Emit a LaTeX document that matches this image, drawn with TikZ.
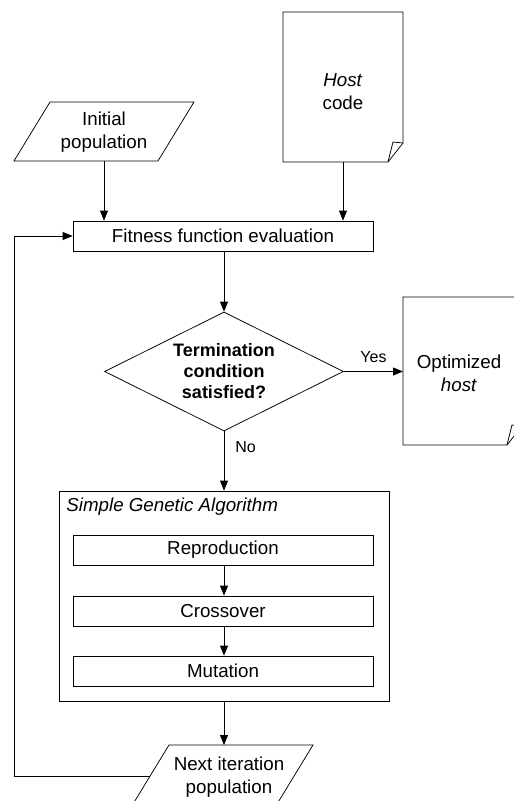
\documentclass[tikz,border=0pt]{standalone}
\usepackage{fontspec}
\setmainfont{Liberation Sans}
\usetikzlibrary{arrows.meta,shapes.geometric}
\begin{document}
\begin{tikzpicture}[x=1pt,y=-1pt,
  line width=0.75pt,
  every node/.style={inner sep=0pt},
  txt/.style={font=\fontsize{18.75}{23}\selectfont, align=center},
  lbl/.style={font=\fontsize{16}{19}\selectfont},
  flow/.style={-{Triangle[length=10pt,width=8pt]}},
  procbox/.style={draw, txt, minimum width=300pt, minimum height=30pt},
  decision/.style={draw, diamond, aspect=2, minimum width=239pt, minimum height=119pt,
    font=\fontsize{18}{21}\selectfont\bfseries, align=center}
]
\useasboundingbox (0,0) rectangle (514,801);

% input parallelogram: initial population
\draw (50,102) -- (194,102) -- (158,161) -- (14,161) -- cycle;
\coordinate (ipB) at (104,161);
\node[txt] (ip) at (104,132) {Initial\\population};

% host code document with curled corner
\draw (283,12) -- (403,12) -- (403,143) -- (388,162) -- (283,162) -- cycle;
\draw (388,162) -- (393,142) -- (403,143);
\coordinate (hostB) at (343,162);
\node[txt] (host) at (343,92) {\textit{Host}\\code};

% fitness evaluation
\node[procbox] (fit) at (223,236) {Fitness function evaluation};

% termination test
\node[decision] (term) at (224,371.5) {Termination\\condition\\satisfied?};

% optimized host document (runs past the right margin)
\draw (522,297) -- (403,297) -- (403,445) -- (507,445) -- (522,426);
\draw (507,445) -- (512,425) -- (522,426);
\coordinate (optL) at (403,371.5);
\node[txt] (opt) at (459,373) {Optimized\\\textit{host}};

% simple genetic algorithm block
\node[draw, minimum width=330pt, minimum height=210pt] (sga) at (224,596) {};
\node[txt, anchor=west] (sgaT) at (66,507) {\textit{Simple Genetic Algorithm}};
\node[procbox] (rep) at (223,550) {Reproduction};
\node[procbox] (cro) at (223,611) {Crossover};
\node[procbox] (mut) at (223,671) {Mutation};

% output parallelogram: next iteration population
\draw (169,745) -- (313,745) -- (277,804) -- (133,804) -- cycle;
\coordinate (npT) at (224,745);
\coordinate (npL) at (150.1,776);
\node[txt] (np) at (229,777) {Next iteration\\population};

% connectors
\draw[flow] (ipB) -- (fit.north -| ipB);
\draw[flow] (hostB) -- (fit.north -| hostB);
\draw[flow] (fit.south -| term.north) -- (term.north);
\draw[flow] (term.east) -- node[lbl, above=8pt] {Yes} (optL);
\draw[flow] (term.south) -- node[lbl, right=11pt, pos=0.27] {No} (sga.north);
\draw[flow] (rep.south -| sga.north) -- (cro.north -| sga.north);
\draw[flow] (cro.south -| sga.north) -- (mut.north -| sga.north);
\draw[flow] (sga.south) -- (npT);
\draw[flow] (npL) -- (14,776) |- (fit.west);
\end{tikzpicture}
\end{document}
